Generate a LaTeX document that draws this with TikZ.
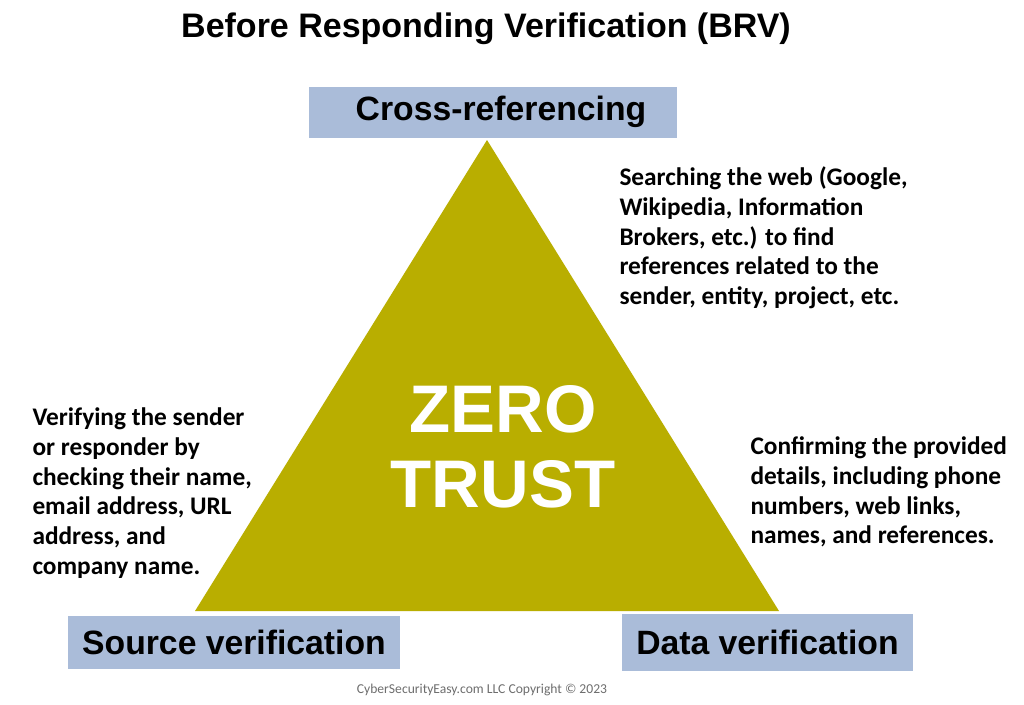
\documentclass[tikz,border=0pt]{standalone}
\usepackage{fontspec}
\setmainfont{Carlito}
\newfontfamily\headfont{Liberation Sans}
\definecolor{boxblue}{RGB}{170,188,217}
\definecolor{olive}{RGB}{185,174,0}
\definecolor{notegray}{RGB}{110,110,110}

\tikzset{every picture/.style={line width=0.75pt}}
\tikzset{
  labelbox/.style={fill=boxblue, inner sep=0pt, font=\headfont\bfseries\fontsize{25.3}{29}\selectfont},
  bodytext/.style={anchor=north west, inner sep=0pt, align=left, font=\bfseries\fontsize{19}{22.4}\selectfont}
}

\begin{document}
\begin{tikzpicture}[x=0.75pt,y=0.75pt,yscale=-1,xscale=1]
\path[use as bounding box, fill=white] (0,0) rectangle (1024,704);

%Shape: Triangle [id:zerotrust]
\draw [fill=olive, draw=none] (487,140) -- (779,611) -- (195,611) -- cycle ;

%Shape: Rectangle [id:crossbox]
\fill [boxblue] (309,87) rectangle (677,138) ;
\draw (501,112) node [labelbox, fill=none] (cross) {Cross-referencing};
%Shape: Rectangle [id:sourcebox]
\draw (234,642.5) node [labelbox, minimum width=332*0.75pt, minimum height=53*0.75pt] (source) {Source verification};
%Shape: Rectangle [id:databox]
\draw (767.5,642.5) node [labelbox, minimum width=291*0.75pt, minimum height=57*0.75pt] (data) {Data verification};

% Text Node
\draw (486,29) node [font=\headfont\bfseries\fontsize{25.5}{29}\selectfont] (title) {Before Responding Verification (BRV)};
% Text Node
\draw (503,447) node [text=white, align=center, font=\headfont\bfseries\fontsize{50.5}{56}\selectfont] (zt) {ZERO\\TRUST};
% Text Node
\draw (619,166) node [bodytext] (crossnote) {Searching the web (Google,\\Wikipedia, Information\\Brokers, etc.) to find\\references related to the\\sender, entity, project, etc.};
% Text Node
\draw (32,407) node [bodytext] (sourcenote) {Verifying the sender\\or responder by\\checking their name,\\email address, URL\\address, and\\company name.};
% Text Node
\draw (750,436) node [bodytext] (datanote) {Confirming the provided\\details, including phone\\numbers, web links,\\names, and references.};
% Text Node
\draw (482,690) node [text=notegray, font=\fontsize{10.2}{12}\selectfont] (copy) {CyberSecurityEasy.com LLC Copyright © 2023};

\end{tikzpicture}
\end{document}
